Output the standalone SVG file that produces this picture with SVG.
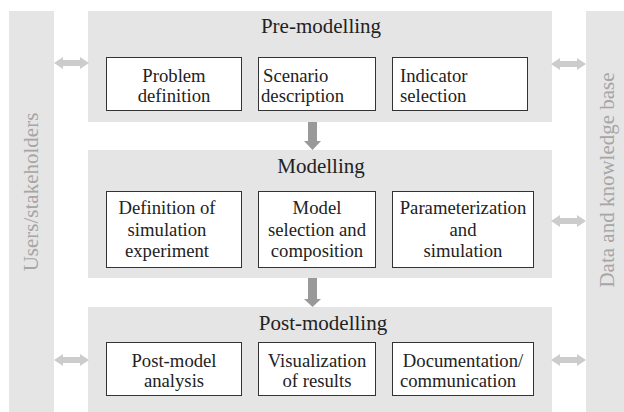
<svg xmlns="http://www.w3.org/2000/svg" width="624" height="412" viewBox="0 0 624 412" font-family="Liberation Serif">
<style>
text{font-family:'Liberation Serif','Times New Roman',serif}
.bar{fill:#e5e5e5}
.panel{fill:#e5e5e5}
.box{fill:#ffffff;stroke:#333333;stroke-width:1}
.title{font-size:21px;fill:#222222;text-anchor:middle}
.t{font-size:18.7px;fill:#222222;text-anchor:middle}
.tl{font-size:18.7px;fill:#222222;text-anchor:start}
.side{font-size:21px;fill:#a6a6a6;text-anchor:middle}
.harr{fill:#cccccc}
.varr{fill:#999999}
</style>
<defs>
<path id="dbl" d="M0,0 L9,-6 L9,-3 L26,-3 L26,-6 L35,0 L26,6 L26,3 L9,3 L9,6 Z"/>
</defs>
<rect width="624" height="412" fill="#ffffff"/>
<g id="users">
<rect class="bar" x="9" y="11" width="45" height="401"/>
<text class="side" transform="translate(38,192) rotate(-90)">Users/stakeholders</text>
</g>
<g id="data">
<rect class="bar" x="586" y="11" width="38" height="401"/>
<text class="side" transform="translate(614,180) rotate(-90)">Data and knowledge base</text>
</g>
<g id="pre">
<rect class="panel" x="88" y="11" width="464" height="111"/>
<text class="title" x="321" y="33">Pre-modelling</text>
</g>
<g id="pre1">
<rect class="box" x="106.5" y="57.5" width="135" height="53"/>
<text class="t" x="174" y="82">Problem</text>
<text class="t" x="174" y="102">definition</text>
</g>
<g id="pre2">
<rect class="box" x="258.5" y="57.5" width="117" height="53"/>
<text class="tl" x="263" y="82">Scenario</text>
<text class="tl" x="261" y="102">description</text>
</g>
<g id="pre3">
<rect class="box" x="392.5" y="57.5" width="135" height="53"/>
<text class="tl" x="400" y="82">Indicator</text>
<text class="tl" x="400" y="102">selection</text>
</g>
<g id="mod">
<rect class="panel" x="88" y="150" width="464" height="128"/>
<text class="title" x="321" y="173">Modelling</text>
</g>
<g id="mod1">
<rect class="box" x="106.5" y="191.5" width="135" height="76"/>
<text class="t" x="167" y="214">Definition of</text>
<text class="t" x="167" y="236">simulation</text>
<text class="t" x="167" y="257">experiment</text>
</g>
<g id="mod2">
<rect class="box" x="258.5" y="191.5" width="117" height="76"/>
<text class="t" x="317" y="214">Model</text>
<text class="t" x="317" y="236">selection and</text>
<text class="t" x="317" y="257">composition</text>
</g>
<g id="mod3">
<rect class="box" x="392.5" y="191.5" width="141" height="76"/>
<text class="t" x="463" y="214">Parameterization</text>
<text class="t" x="463" y="236">and</text>
<text class="t" x="463" y="257">simulation</text>
</g>
<g id="post">
<rect class="panel" x="88" y="307" width="464" height="105"/>
<text class="title" x="323" y="330">Post-modelling</text>
</g>
<g id="post1">
<rect class="box" x="106.5" y="342.5" width="135" height="53"/>
<text class="t" x="174" y="367">Post-model</text>
<text class="t" x="174" y="387">analysis</text>
</g>
<g id="post2">
<rect class="box" x="258.5" y="342.5" width="117" height="53"/>
<text class="t" x="317" y="367">Visualization</text>
<text class="t" x="317" y="387">of results</text>
</g>
<g id="post3">
<rect class="box" x="392.5" y="342.5" width="141" height="53"/>
<text class="t" x="463" y="367">Documentation/</text>
<text class="t" x="458" y="387">communication</text>
</g>
<g id="connectors">
<use class="harr" href="#dbl" x="54" y="63"/>
<use class="harr" href="#dbl" x="551" y="64"/>
<use class="harr" href="#dbl" x="551" y="221"/>
<use class="harr" href="#dbl" x="54" y="360"/>
<use class="harr" href="#dbl" x="551" y="360"/>
<path class="varr" d="M308,122 L317,122 L317,141 L321,141 L312.5,150 L304,141 L308,141 Z"/>
<path class="varr" d="M308,278 L317,278 L317,299 L321,299 L312.5,307 L304,299 L308,299 Z"/>
</g>
</svg>
